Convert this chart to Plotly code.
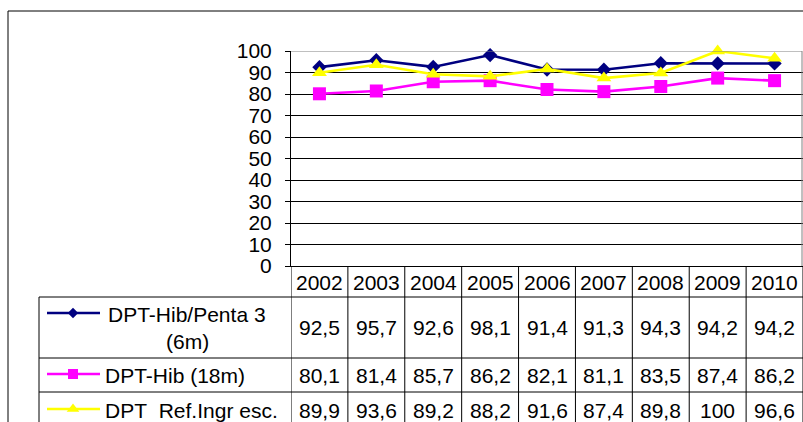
import plotly.graph_objects as go

years = ['2002', '2003', '2004', '2005', '2006', '2007', '2008', '2009', '2010']
penta3 = [92.5, 95.7, 92.6, 98.1, 91.4, 91.3, 94.3, 94.2, 94.2]
hib18 = [80.1, 81.4, 85.7, 86.2, 82.1, 81.1, 83.5, 87.4, 86.2]
ref_esc = [89.9, 93.6, 89.2, 88.2, 91.6, 87.4, 89.8, 100, 96.6]
y_ticks = [0, 10, 20, 30, 40, 50, 60, 70, 80, 90, 100]

series = [
    dict(name='DPT-Hib/Penta 3 (6m)', label=['DPT-Hib/Penta 3', '(6m)'], values=penta3,
         color='#000080', symbol='diamond', size=11, lsize=8, row=(297, 358)),
    dict(name='DPT-Hib (18m)', label=['DPT-Hib (18m)'], values=hib18,
         color='#FF00FF', symbol='square', size=13, lsize=10, row=(358, 392)),
    dict(name='DPT  Ref.Ingr esc.', label=['DPT\u00a0\u00a0Ref.Ingr esc.'], values=ref_esc,
         color='#FFFF00', symbol='triangle-up', size=13, lsize=11, row=(392, 426)),
]

W, H = 803, 422
FONT = 'Liberation Sans, Arial, sans-serif'
FS = 21


def py(p):
    """pixel row (from top) -> paper fraction"""
    return 1 - p / H


fig = go.Figure()

for s in series:
    fig.add_trace(go.Scatter(
        x=years, y=s['values'], mode='lines+markers', name=s['name'],
        line=dict(color=s['color'], width=2.6),
        marker=dict(symbol=s['symbol'], size=s['size'], color=s['color']),
        xaxis='x', yaxis='y', showlegend=False, cliponaxis=False))


def fmt(v):
    if float(v).is_integer():
        return str(int(v))
    return ('%.1f' % v).replace('.', ',')


shapes = []
annotations = []
LINE = dict(color='black', width=1)

# outer chart border
shapes.append(dict(type='line', xref='paper', yref='paper', x0=8 / W, y0=py(11), x1=1, y1=py(11), line=LINE))
shapes.append(dict(type='line', xref='paper', yref='paper', x0=8 / W, y0=py(11), x1=8 / W, y1=0, line=LINE))
# plot area gray border (top/right)
shapes.append(dict(type='line', xref='paper', yref='y', x0=291 / W, x1=802 / W, y0=100, y1=100,
                   line=dict(color='#808080', width=1)))
shapes.append(dict(type='line', xref='paper', yref='y', x0=802 / W, x1=802 / W, y0=0, y1=100,
                   line=dict(color='#808080', width=1)))

# data table grid
for yy in [297, 358, 392]:
    shapes.append(dict(type='line', xref='paper', yref='paper', x0=39 / W, x1=1, y0=py(yy), y1=py(yy), line=LINE))
shapes.append(dict(type='line', xref='paper', yref='paper', x0=39 / W, x1=39 / W, y0=py(297), y1=0, line=LINE))
for k in range(len(years) + 1):
    shapes.append(dict(type='line', xref='x', yref='paper', x0=k - 0.5, x1=k - 0.5, y0=py(266), y1=0, line=LINE))

TF = dict(size=FS, color='black', family=FONT)
# header years
for i, yr in enumerate(years):
    annotations.append(dict(x=i, y=py(282), xref='x', yref='paper', text=yr, showarrow=False,
                            font=TF, xanchor='center', yanchor='middle'))

# rows
for s in series:
    r0, r1 = s['row']
    if len(s['label']) == 2:
        yc = 327.5
        sw_y = 313
        annotations.append(dict(x=187 / W, y=py(314), xref='paper', yref='paper', text=s['label'][0],
                                showarrow=False, font=TF, xanchor='center', yanchor='middle'))
        annotations.append(dict(x=187 / W, y=py(341), xref='paper', yref='paper', text=s['label'][1],
                                showarrow=False, font=TF, xanchor='center', yanchor='middle'))
    else:
        yc = 375 if r0 == 358 else 410
        sw_y = yc - 1
        annotations.append(dict(x=103 / W, y=py(yc), xref='paper', yref='paper', text=s['label'][0],
                                showarrow=False, font=TF, xanchor='left', yanchor='middle'))
    for i, v in enumerate(s['values']):
        annotations.append(dict(x=i, y=py(yc), xref='x', yref='paper', text=fmt(v), showarrow=False,
                                font=TF, xanchor='center', yanchor='middle'))
    # legend swatch (pixel overlay axis)
    fig.add_trace(go.Scatter(x=[47, 100], y=[sw_y, sw_y], mode='lines',
                             line=dict(color=s['color'], width=2.6),
                             xaxis='x2', yaxis='y2', showlegend=False, hoverinfo='skip'))
    fig.add_trace(go.Scatter(x=[73], y=[sw_y], mode='markers',
                             marker=dict(symbol=s['symbol'], size=s['lsize'], color=s['color']),
                             xaxis='x2', yaxis='y2', showlegend=False, hoverinfo='skip'))

fig.update_layout(
    width=W, height=H, autosize=False, margin=dict(l=0, r=0, t=0, b=0, pad=0, autoexpand=False),
    paper_bgcolor='white', plot_bgcolor='rgba(0,0,0,0)',
    font=dict(family=FONT, size=FS, color='black'),
    showlegend=False,
    xaxis=dict(domain=[291 / W, 1.0], type='category', range=[-0.5, len(years) - 0.5],
               showticklabels=False, ticks='', showgrid=False, zeroline=False, automargin=False,
               showline=True, linecolor='black', linewidth=1, fixedrange=True),
    yaxis=dict(domain=[py(266), py(51)], range=[0, 100], tickvals=y_ticks,
               ticks='outside', ticklen=5, tickcolor='black', tickwidth=1,
               ticklabelstandoff=9, automargin=False,
               showgrid=True, gridcolor='black', gridwidth=1, zeroline=False,
               showline=True, linecolor='black', linewidth=1,
               tickfont=TF, fixedrange=True),
    xaxis2=dict(domain=[0, 1], range=[0, W], visible=False, anchor='y2', fixedrange=True, automargin=False),
    yaxis2=dict(domain=[0, 1], range=[H, 0], visible=False, anchor='x2', fixedrange=True, automargin=False),
    shapes=shapes,
    annotations=annotations,
)

fig.write_html('out.html', config={'displayModeBar': False},
               post_script="document.body.style.margin='0';document.body.style.overflow='hidden';")
